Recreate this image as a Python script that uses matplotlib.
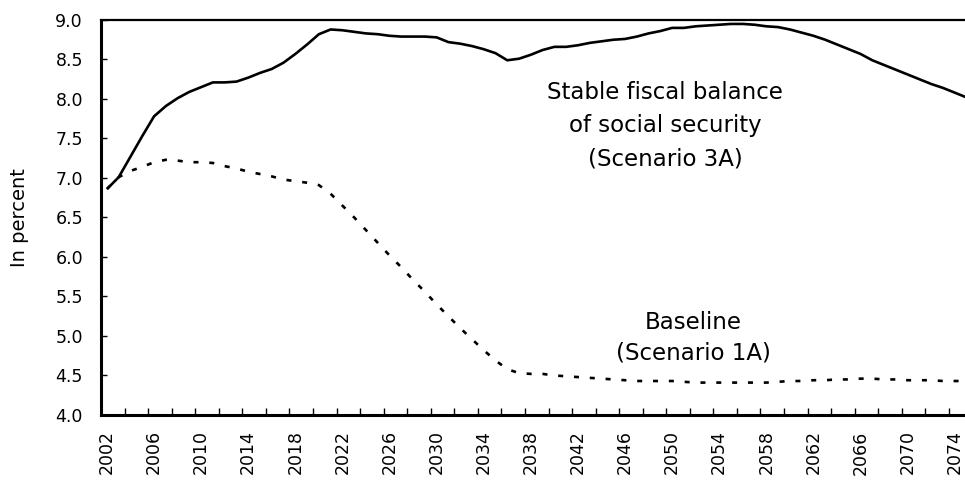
import numpy as np
import matplotlib
matplotlib.use("Agg")
import matplotlib.pyplot as plt
from matplotlib.ticker import MultipleLocator, FixedLocator

# Роки
years = np.arange(2002, 2076)

# Stable fiscal balance of social security (Scenario 3A)
stable = [6.86, 7.01, 7.27, 7.53, 7.78, 7.91, 8.01, 8.09, 8.15, 8.21,
          8.21, 8.22, 8.27, 8.33, 8.38, 8.46, 8.57, 8.69, 8.82, 8.88,
          8.87, 8.85, 8.83, 8.82, 8.80, 8.79, 8.79, 8.79, 8.78, 8.72,
          8.70, 8.67, 8.63, 8.58, 8.49, 8.51, 8.56, 8.62, 8.66, 8.66,
          8.68, 8.71, 8.73, 8.75, 8.76, 8.79, 8.83, 8.86, 8.90, 8.90,
          8.92, 8.93, 8.94, 8.95, 8.95, 8.94, 8.92, 8.91, 8.88, 8.84,
          8.80, 8.75, 8.69, 8.63, 8.57, 8.49, 8.43, 8.37, 8.31, 8.25,
          8.19, 8.14, 8.08, 8.02]

# Baseline (Scenario 1A)
baseline = [6.86, 7.01, 7.09, 7.14, 7.20, 7.23, 7.22, 7.20, 7.20, 7.19,
            7.15, 7.12, 7.08, 7.05, 7.02, 6.98, 6.96, 6.94, 6.91, 6.80,
            6.65, 6.50, 6.34, 6.18, 6.02, 5.87, 5.71, 5.56, 5.40, 5.25,
            5.10, 4.96, 4.82, 4.69, 4.58, 4.53, 4.52, 4.52, 4.50, 4.49,
            4.48, 4.47, 4.46, 4.45, 4.44, 4.43, 4.43, 4.43, 4.43, 4.42,
            4.41, 4.41, 4.41, 4.41, 4.41, 4.41, 4.41, 4.42, 4.43, 4.43,
            4.44, 4.44, 4.45, 4.45, 4.46, 4.46, 4.45, 4.45, 4.44, 4.44,
            4.44, 4.43, 4.43, 4.43]

year_labels = np.arange(2002, 2075, 4)

fig = plt.figure(figsize=(9.65, 4.84), dpi=100)
ax = fig.add_axes([0.1047, 0.1426, 0.8953, 0.8161])

ax.plot(years, stable, color='black', lw=1.9, solid_capstyle='butt')
ax.plot(years, baseline, color='black', lw=1.9, linestyle=(0, (1.9, 4.1)))

ax.set_xlim(2001.5, 2074.87)
ax.set_ylim(4.0, 9.0)

# Осі
ax.yaxis.set_major_locator(MultipleLocator(0.5))
ax.yaxis.set_major_formatter(plt.FuncFormatter(lambda v, p: f'{v:.1f}'))
ax.tick_params(axis='y', direction='in', length=4, width=1, pad=13, labelsize=12.5)

ax.xaxis.set_major_locator(FixedLocator(year_labels))
ax.set_xticklabels([str(y) for y in year_labels], rotation=90)
ax.xaxis.set_minor_locator(FixedLocator(np.arange(2003.5, 2075, 2)))
ax.tick_params(axis='x', which='major', length=0, pad=11, labelsize=12.5)
ax.tick_params(axis='x', which='minor', direction='in', length=5, width=1)

ax.spines['right'].set_visible(False)
ax.spines['left'].set_linewidth(2.2)
ax.spines['bottom'].set_linewidth(2.2)
ax.spines['top'].set_linewidth(1.6)

ax.set_ylabel('In percent', fontsize=14, labelpad=19)

ax.text(2049.4, 7.66, 'Stable fiscal balance\nof social security\n(Scenario 3A)',
        ha='center', va='center', fontsize=16.5, linespacing=1.55)
ax.text(2051.8, 4.98, 'Baseline\n(Scenario 1A)',
        ha='center', va='center', fontsize=16.5, linespacing=1.45)

fig.savefig('out.png', dpi=100)
